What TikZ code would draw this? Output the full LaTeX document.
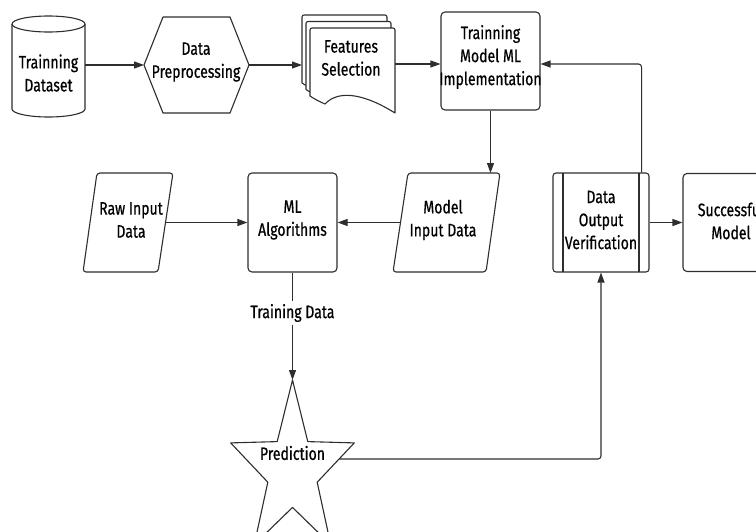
\documentclass[tikz,border=0pt]{standalone}
\usepackage{fontspec}
\setmainfont[FakeStretch=0.78, FakeBold=0.6]{Fira Sans}
\usetikzlibrary{arrows.meta,calc}

\begin{document}
\begin{tikzpicture}[x=1pt,y=-1pt,
  ink/.style={draw=black!82, line width=1.1pt},
  shapeline/.style={ink, fill=white, line join=round},
  roundbox/.style={ink, fill=white, rounded corners=4pt},
  conn/.style={ink, rounded corners=3pt},
  arr/.style={conn, -{Triangle[length=10pt,width=7pt]}},
  txt/.style={font=\fontsize{18}{23}\selectfont, align=center, text=black, inner sep=0pt},
  frame/.style={inner sep=0pt, outer sep=0pt}
]
\useasboundingbox (0,0) rectangle (756,531);
\clip (0,0) rectangle (756,531);

% ---- Trainning Dataset (cylinder) ----
\node[frame, minimum width=73pt, minimum height=101pt] (ds) at (48.5,66.5) {};
\draw[shapeline] (12,24) -- (12,109) arc[start angle=180, end angle=0, x radius=36.5, y radius=8] -- (85,24);
\draw[shapeline] (48.5,24) ellipse [x radius=36.5, y radius=8];
\node[txt] (dstext) at (48.5,73) {Trainning\\Dataset};

% ---- Data Preprocessing (hexagon) ----
\node[frame, minimum width=105pt, minimum height=96pt] (pre) at (196.5,65) {};
\draw[shapeline] (144,65) -- (163,17) -- (230,17) -- (249,65) -- (230,113) -- (163,113) -- cycle;
\node[txt] (pretext) at (196,62) {Data\\Preprocessing};

% ---- Features Selection (stacked documents) ----
\node[frame, minimum width=93pt, minimum height=98pt] (fs) at (348.5,64) {};
\foreach \dx/\dy in {-8/-13, -4/-6.5, 0/0}{
  \draw[shapeline, rounded corners=2pt] ($(310,96)+(\dx,\dy)$) -- ($(310,28)+(\dx,\dy)$) -- ($(395,28)+(\dx,\dy)$)
    [sharp corners] -- ($(395,113)+(\dx,\dy)$)
    .. controls ($(368,96)+(\dx,\dy)$) and ($(340,88)+(\dx,\dy)$) .. ($(325,104)+(\dx,\dy)$)
    .. controls ($(318,101)+(\dx,\dy)$) and ($(313,98)+(\dx,\dy)$) .. ($(310,96)+(\dx,\dy)$) -- cycle;
}
\node[txt] (fstext) at (351,58) {Features\\Selection};

% ---- Trainning Model ML Implementation ----
\node[roundbox, minimum width=99pt, minimum height=98pt] (tm) at (490.5,61) {};
\node[txt] (tmtext) at (490.5,57) {Trainning\\Model ML\\Implementation};

% ---- Raw Input Data (parallelogram) ----
\node[frame, minimum width=75.5pt, minimum height=99pt] (raw) at (127.75,222.5) {};
\draw[shapeline, rounded corners=3pt] (97,173) -- (173,173) -- (158,272) -- (83,272) -- cycle;
\node[txt] (rawtext) at (131,220) {Raw Input\\Data};

% ---- ML Algorithms ----
\node[roundbox, minimum width=89pt, minimum height=99pt] (ml) at (292.5,222.5) {};
\node[txt] (mltext) at (292.5,220) {ML\\Algorithms};

% ---- Model Input Data (parallelogram) ----
\node[frame, minimum width=92.5pt, minimum height=99pt] (mid) at (446.75,222.5) {};
\draw[shapeline, rounded corners=3pt] (408,173) -- (500,173) -- (486,272) -- (393,272) -- cycle;
\node[txt] (midtext) at (443,220) {Model\\Input Data};

% ---- Data Output Verification (predefined process) ----
\node[roundbox, rounded corners=3pt, minimum width=96pt, minimum height=99pt] (dov) at (601,222.5) {};
\draw[ink] (563,173) -- (563,272);
\draw[ink] (639,173) -- (639,272);
\node[txt] (dovtext) at (601,220) {Data\\Output\\Verification};

% ---- Successful Model (runs past the right edge) ----
\node[roundbox, minimum width=98pt, minimum height=98pt] (sm) at (732,222.5) {};
\node[txt] (smtext) at (731,221) {Successful\\Model};

% ---- Training Data label ----
\node[txt] (td) at (292.5,313) {Training Data};

% ---- Prediction (star) ----
\draw[shapeline] (292.5,380) -- (307.8,441.6) -- (354.3,442.9) -- (317.2,482.2) -- (330.7,544.6)
  -- (292.5,507.4) -- (254.3,544.6) -- (267.8,482.2) -- (230.7,442.9) -- (277.2,441.6) -- cycle;
\coordinate (startop) at (292.5,380);
\coordinate (starright) at (339.1,459);
\node[txt] (pred) at (292.5,453) {Prediction};

% ---- connectors ----
\draw[arr] (ds.east |- pre.west) -- (pre.west);
\draw[arr] (pre.east) -- (fs.west |- pre.east);
\draw[arr] (fs.east) -- (tm.west |- fs.east);
\draw[arr] (tm.south) -- (tm.south |- mid.north);
\draw[arr] ([xshift=-8pt]dov.north east) |- ([yshift=-3pt]tm.east);
\draw[arr] (mid.west) -- (ml.east);
\draw[arr] (raw.east) -- (ml.west);
\draw[arr] (dov.east) -- (sm.west);
\draw[conn] (ml.south) -- ([yshift=3pt]td.north);
\draw[arr] ([yshift=-3pt]td.south) -- (startop);
\draw[arr] (starright) -| (dov.south);
\end{tikzpicture}
\end{document}
